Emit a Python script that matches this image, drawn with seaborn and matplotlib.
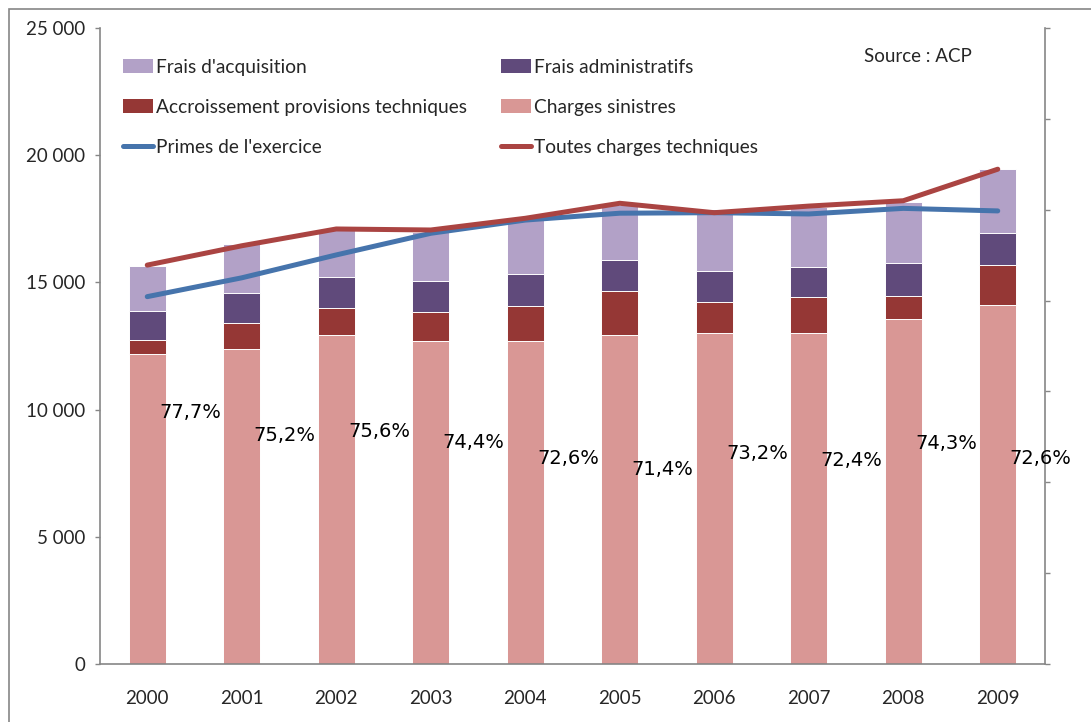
"""
Charges techniques vs primes, 2000-2009 (Source : ACP).
Stacked bars + two lines + ratio labels on a hidden secondary axis.
"""
import numpy as np
import pandas as pd
import matplotlib
matplotlib.use('Agg')
import matplotlib.pyplot as plt
import seaborn as sns
from matplotlib.patches import Rectangle, Patch
from matplotlib.lines import Line2D

sns.set_theme(style='white')
plt.rcParams['font.family'] = ['Lato', 'DejaVu Sans']

# Data (millions d'euros)
years = ['2000', '2001', '2002', '2003', '2004', '2005', '2006', '2007', '2008', '2009']
charges_sinistres = [12190, 12380, 12920, 12700, 12700, 12920, 13010, 13010, 13550, 14120]
accroissement_prov = [550, 1010, 1060, 1140, 1375, 1730, 1230, 1415, 915, 1550]
frais_admin = [1140, 1200, 1230, 1230, 1260, 1230, 1220, 1190, 1310, 1260]
frais_acquisition = [1780, 1900, 1850, 1900, 2100, 2160, 2260, 2360, 2400, 2530]
primes = [14440, 15180, 16080, 16930, 17450, 17720, 17740, 17690, 17910, 17810]
toutes_charges = [15680, 16440, 17100, 17060, 17520, 18110, 17740, 18000, 18210, 19450]
ratio = [77.7, 75.2, 75.6, 74.4, 72.6, 71.4, 73.2, 72.4, 74.3, 72.6]
ytick_labels = ['0', '5 000', '10 000', '15 000', '20 000', '25 000']

# Colours
c_acq = '#B2A1C7'
c_admin = '#604A7B'
c_accr = '#953735'
c_sin = '#D99795'
c_primes = '#4674AC'
c_toutes = '#AA4442'
axis_grey = '#868686'

df = pd.DataFrame({
    'year': years,
    'sinistres': charges_sinistres,
    'accr': accroissement_prov,
    'admin': frais_admin,
    'acq': frais_acquisition,
})
# cumulative levels for stacking (drawn top-down so each layer overpaints)
df['lvl1'] = df['sinistres']
df['lvl2'] = df['lvl1'] + df['accr']
df['lvl3'] = df['lvl2'] + df['admin']
df['lvl4'] = df['lvl3'] + df['acq']

fig = plt.figure(figsize=(10.91, 7.22), dpi=100)
W, H = 1091, 722
ax = fig.add_axes([100 / W, (H - 664) / H, (1045 - 100) / W, (664 - 28) / H])

bar_kw = dict(width=0.39, edgecolor='white', linewidth=0.7, ax=ax, order=years)
for col, color in [('lvl4', c_acq), ('lvl3', c_admin), ('lvl2', c_accr), ('lvl1', c_sin)]:
    sns.barplot(data=df, x='year', y=col, color=color, saturation=1, **bar_kw)

pos = np.arange(len(years))
sns.lineplot(x=pos, y=primes, color=c_primes, linewidth=3.6, ax=ax,
             solid_capstyle='round', zorder=5)
sns.lineplot(x=pos, y=toutes_charges, color=c_toutes, linewidth=3.6, ax=ax,
             solid_capstyle='round', zorder=6)

ax.set_xlim(-0.5, len(years) - 0.5)
ax.set_ylim(0, 25000)
ax.set_yticks(np.arange(0, 25001, 5000))
ax.set_yticklabels(ytick_labels)
ax.set_xticks(pos)
ax.set_xticklabels(years)
ax.set_xlabel('')
ax.set_ylabel('')
ax.tick_params(axis='y', which='major', length=3.6, width=1, color=axis_grey,
               direction='out', labelsize=13.5, pad=7, left=True)
ax.tick_params(axis='x', length=0, labelsize=13.5, pad=19)

for side in ['top', 'right']:
    ax.spines[side].set_visible(False)
for side in ['left', 'bottom']:
    ax.spines[side].set_color(axis_grey)
    ax.spines[side].set_linewidth(1.2)

# secondary axis (ratio), no labels
ax2 = ax.twinx()
ax2.set_ylim(0.5, 1.2)
ax2.set_yticks(np.arange(0.5, 1.21, 0.1))
ax2.set_yticklabels([])
ax2.tick_params(axis='y', length=3.6, width=1, color=axis_grey, direction='out', right=True)
for side in ['top', 'left', 'bottom']:
    ax2.spines[side].set_visible(False)
ax2.spines['right'].set_color(axis_grey)
ax2.spines['right'].set_linewidth(1.2)
ax2.grid(False)

for i, r in enumerate(ratio):
    ax2.annotate(f"{r:.1f}%".replace('.', ','), (i, r / 100), xytext=(8.5, 0),
                 textcoords='offset points', ha='left', va='center',
                 fontsize=14, family='DejaVu Sans', color='black', zorder=10)

# legend
handles = [
    Patch(facecolor=c_acq, edgecolor='none'),
    Patch(facecolor=c_accr, edgecolor='none'),
    Line2D([0], [0], color=c_primes, lw=3.6, solid_capstyle='round'),
    Patch(facecolor=c_admin, edgecolor='none'),
    Patch(facecolor=c_sin, edgecolor='none'),
    Line2D([0], [0], color=c_toutes, lw=3.6, solid_capstyle='round'),
]
labels = ["Frais d'acquisition", 'Accroissement provisions techniques', "Primes de l'exercice",
          'Frais administratifs', 'Charges sinistres', 'Toutes charges techniques']
leg = ax2.legend(handles, labels, ncol=2, loc='upper left',
                 bbox_to_anchor=(23 / 945, 1 - 31 / 636), frameon=False,
                 fontsize=13.75, handlelength=1.57, handleheight=0.75, handletextpad=0.16,
                 labelspacing=1.2, columnspacing=1.8, borderaxespad=0, borderpad=0)

fig.text(864 / W, 1 - 57 / H, 'Source : ACP', fontsize=13.5, ha='left', va='center')

# chart outer border (only top/left edges fall inside the picture)
fig.patches.append(Rectangle((8.5 / W, -0.05), 1.1, 1.05 - 8.5 / H, transform=fig.transFigure,
                             fill=False, edgecolor=axis_grey, linewidth=1.2))

fig.savefig('out.png', dpi=100)
